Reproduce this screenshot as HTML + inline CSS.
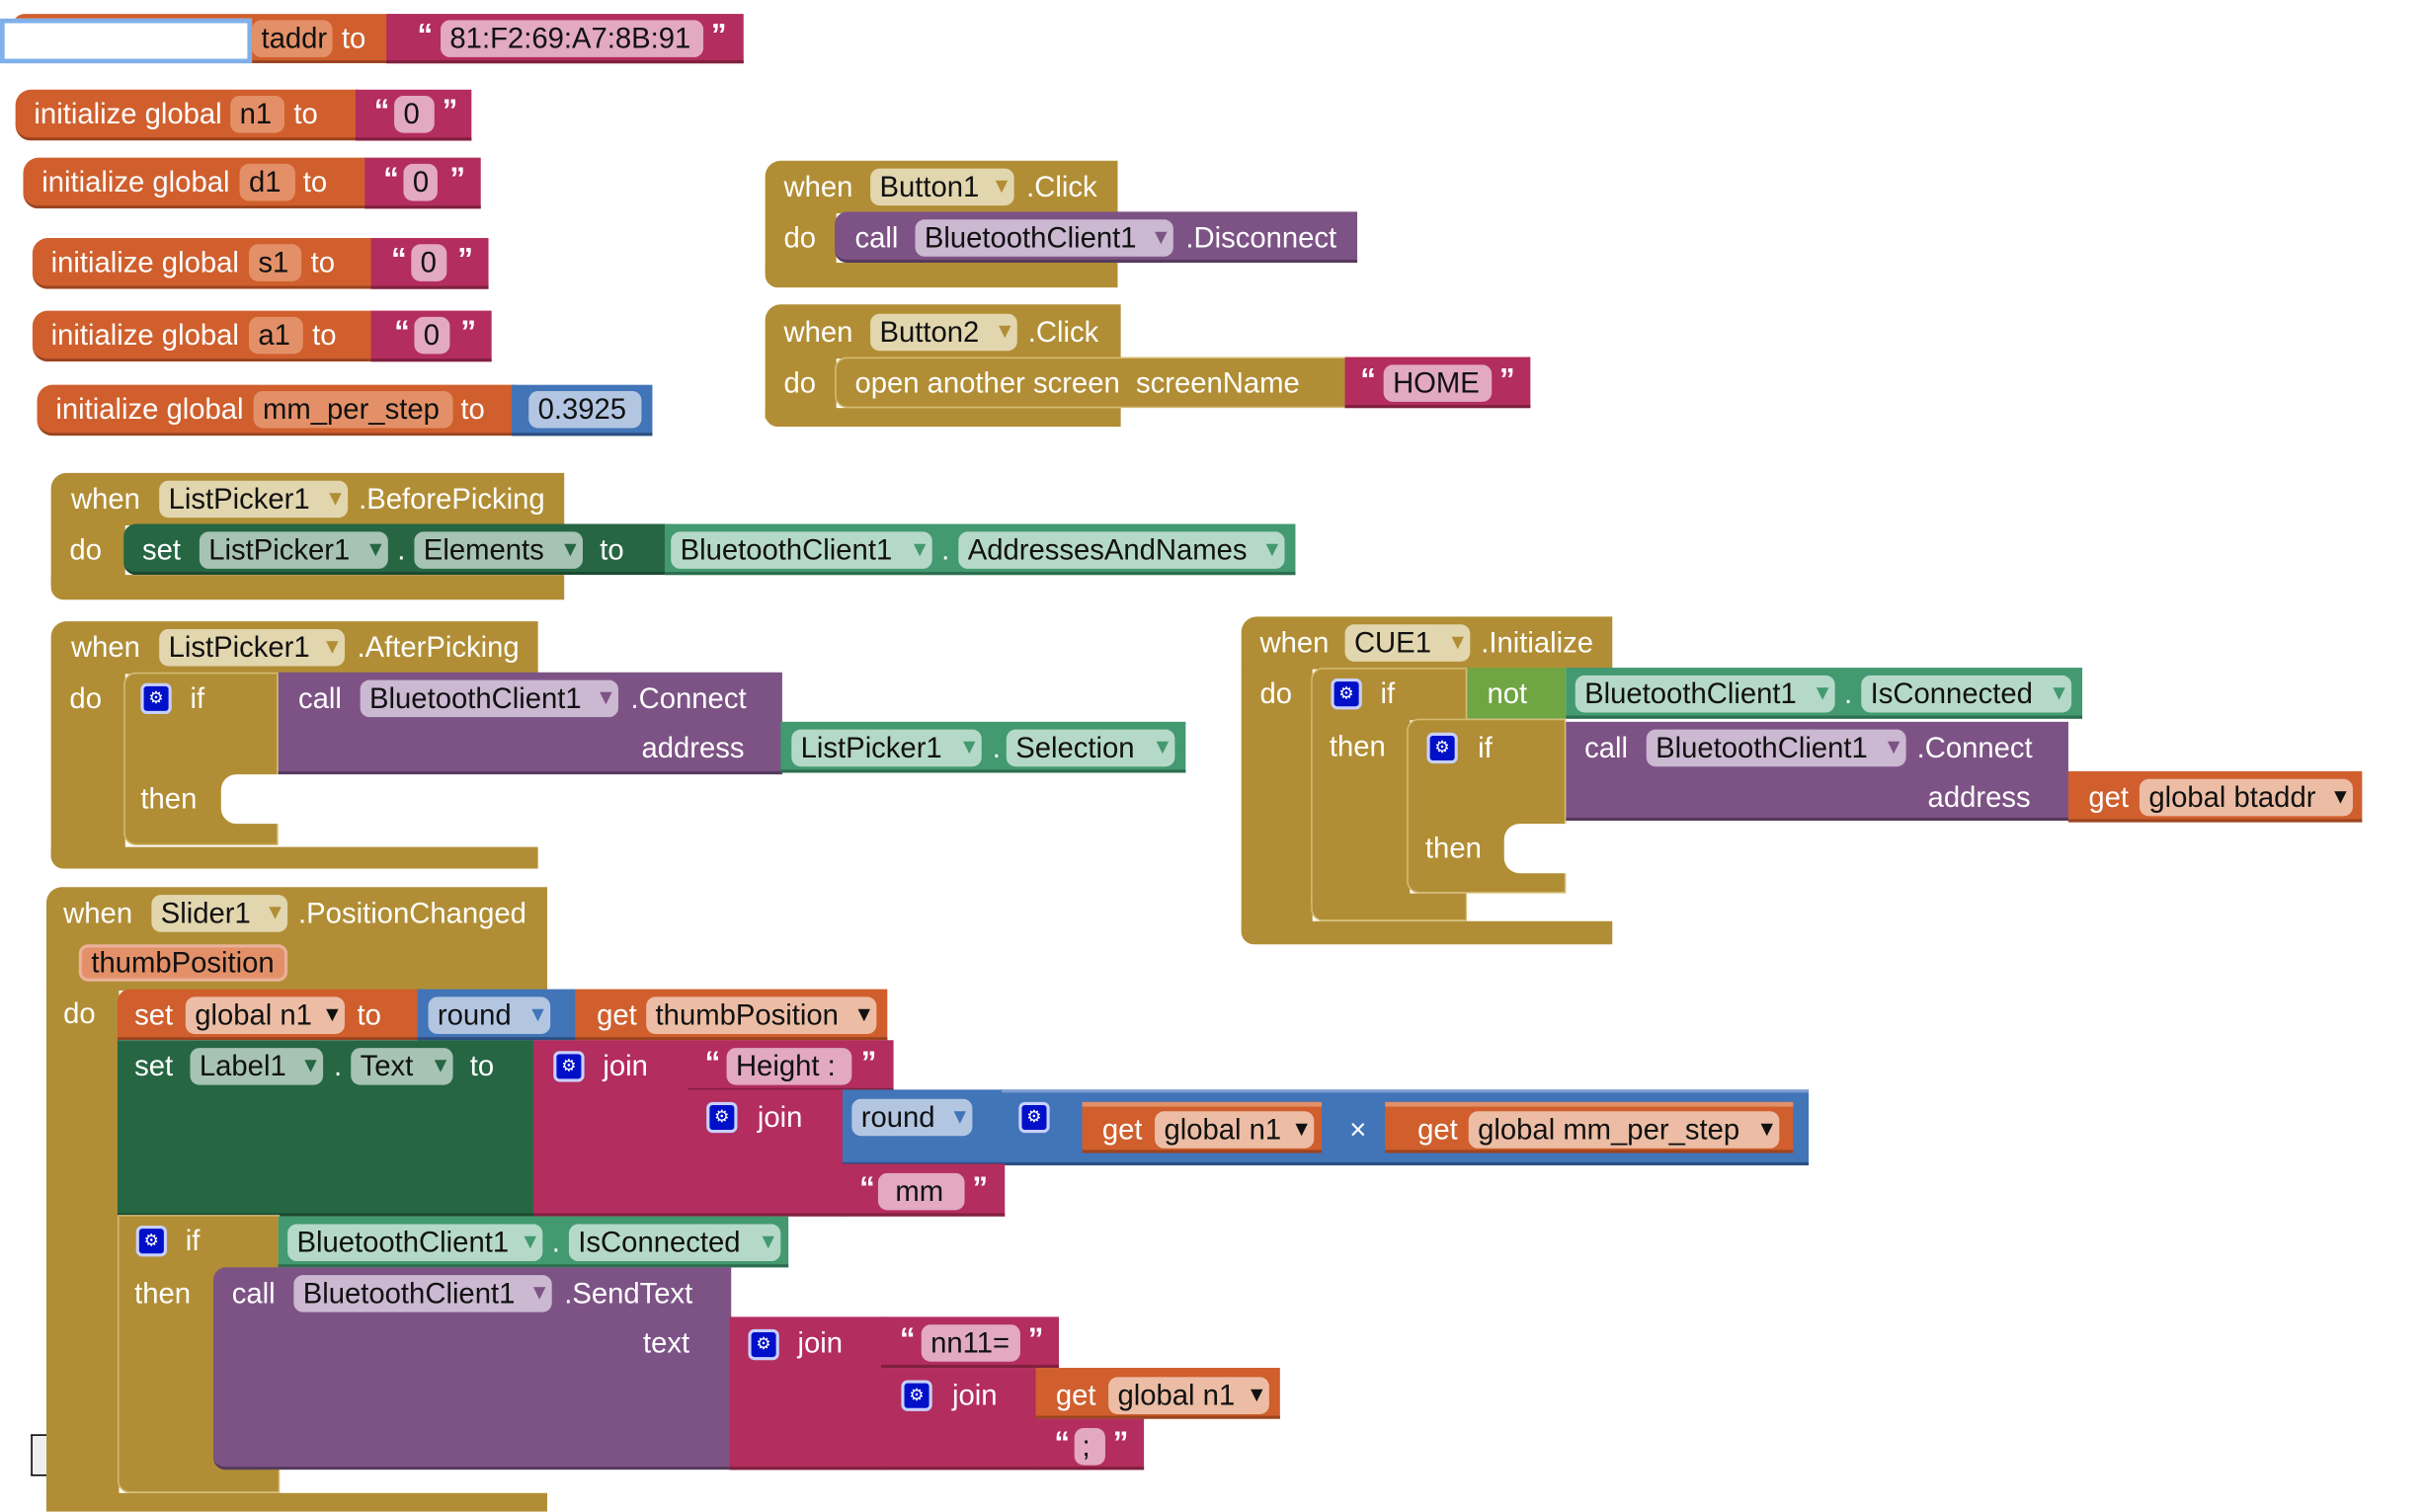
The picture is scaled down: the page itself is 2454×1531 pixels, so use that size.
<!DOCTYPE html>
<html><head><meta charset="utf-8"><style>
html,body{margin:0;padding:0;background:#fff;width:2454px;height:1526px;overflow:hidden}
.c{position:absolute;left:0;top:0;width:1568px;height:975px;transform:scale(1.565);transform-origin:0 0;font-family:"Liberation Sans",sans-serif}
.b{position:absolute;box-sizing:border-box}
.t{position:absolute;color:#fff;font-size:18.7px;line-height:24px;white-space:nowrap}
.f{position:absolute;height:24px;line-height:24px;border-radius:6px;color:#111;padding:0 6px;font-size:18.7px;white-space:nowrap;box-sizing:border-box}
.f i{font-style:normal;font-size:16px;position:absolute;right:4px;top:0}
.q{font-weight:bold;font-size:20px}
.g{position:absolute;width:20px;height:20px;border-radius:4px;background:#0010c8;border:2px solid #c8d0ff;box-sizing:border-box;color:#fff;font-size:11px;line-height:16px;text-align:center}
.O{background:#D05F2D;border-bottom:2px solid #9c4420}.Of{background:#ECBDA4}.Oi{background:#E39068}
.M{background:#B32D5E;border-bottom:2px solid #80203f}.Mf{background:#E2A9C1}
.B{background:#4274B8;border-bottom:2px solid #2c4f80}.Bf{background:#B2C6E2}
.G{background:#B18E35}.Gf{background:#E2D6AE}
.P{background:#7D5385;border-bottom:2px solid #563a5c}.Pf{background:#CBB8D1}
.D{background:#266643;border-bottom:2px solid #1a4a30}.Df{background:#A6C3B3}
.T{background:#439970;border-bottom:2px solid #2c6e4e}.Tf{background:#B5D9C8}
.L{background:#6FA543}
.O i{color:#D05F2D}
</style></head><body><div class="c">

<!-- btaddr -->
<div class="b O" style="left:8px;top:9px;width:250px;height:32px;border-radius:8px 0 0 8px"></div>
<div class="b M" style="left:250px;top:9px;width:231px;height:32px"></div>
<div class="b" style="left:0;top:12px;width:163px;height:29px;background:#fff;border:3px solid #7fb0ea"></div>
<div class="f Oi" style="left:163px;top:13px;width:52px">taddr</div>
<div class="t" style="left:221px;top:13px">to</div>
<div class="t q" style="left:270px;top:11px">“</div>
<div class="f Mf" style="left:285px;top:13px;width:170px">81:F2:69:A7:8B:91</div>
<div class="t q" style="left:460px;top:11px">”</div>

<!-- n1 -->
<div class="b O" style="left:10px;top:58px;width:222px;height:33px;border-radius:10px 0 0 10px"></div>
<div class="b M" style="left:230px;top:58px;width:75px;height:33px"></div>
<div class="t" style="left:22px;top:62px">initialize global</div>
<div class="f Oi" style="left:149px;top:62px;width:35px">n1</div>
<div class="t" style="left:190px;top:62px">to</div>
<div class="t q" style="left:242px;top:60px">“</div>
<div class="f Mf" style="left:255px;top:62px;width:26px">0</div>
<div class="t q" style="left:286px;top:60px">”</div>

<!-- d1 -->
<div class="b O" style="left:15px;top:102px;width:222px;height:33px;border-radius:10px 0 0 10px"></div>
<div class="b M" style="left:236px;top:102px;width:75px;height:33px"></div>
<div class="t" style="left:27px;top:106px">initialize global</div>
<div class="f Oi" style="left:155px;top:106px;width:36px">d1</div>
<div class="t" style="left:196px;top:106px">to</div>
<div class="t q" style="left:248px;top:104px">“</div>
<div class="f Mf" style="left:261px;top:106px;width:22px">0</div>
<div class="t q" style="left:291px;top:104px">”</div>

<!-- s1 -->
<div class="b O" style="left:21px;top:154px;width:221px;height:33px;border-radius:10px 0 0 10px"></div>
<div class="b M" style="left:240px;top:154px;width:76px;height:33px"></div>
<div class="t" style="left:33px;top:158px">initialize global</div>
<div class="f Oi" style="left:161px;top:158px;width:34px">s1</div>
<div class="t" style="left:201px;top:158px">to</div>
<div class="t q" style="left:253px;top:156px">“</div>
<div class="f Mf" style="left:266px;top:158px;width:23px">0</div>
<div class="t q" style="left:296px;top:156px">”</div>

<!-- a1 -->
<div class="b O" style="left:21px;top:201px;width:221px;height:33px;border-radius:10px 0 0 10px"></div>
<div class="b M" style="left:240px;top:201px;width:78px;height:33px"></div>
<div class="t" style="left:33px;top:205px">initialize global</div>
<div class="f Oi" style="left:161px;top:205px;width:35px">a1</div>
<div class="t" style="left:202px;top:205px">to</div>
<div class="t q" style="left:255px;top:203px">“</div>
<div class="f Mf" style="left:268px;top:205px;width:23px">0</div>
<div class="t q" style="left:298px;top:203px">”</div>

<!-- mm_per_step -->
<div class="b O" style="left:24px;top:249px;width:310px;height:33px;border-radius:10px 0 0 10px"></div>
<div class="b B" style="left:331px;top:249px;width:91px;height:33px"></div>
<div class="t" style="left:36px;top:253px">initialize global</div>
<div class="f Oi" style="left:164px;top:253px;width:129px">mm_per_step</div>
<div class="t" style="left:298px;top:253px">to</div>
<div class="f Bf" style="left:342px;top:253px;width:73px">0.3925</div>

<!-- Button1 -->
<div class="b G" style="left:495px;top:104px;width:228px;height:34px;border-radius:10px 0 0 0"></div>
<div class="b G" style="left:495px;top:137px;width:46px;height:40px"></div>
<div class="b G" style="left:495px;top:170px;width:228px;height:16px;border-radius:0 0 0 8px"></div>
<div class="b P" style="left:540px;top:137px;width:338px;height:33px;border-radius:8px 0 0 8px"></div>
<div class="t" style="left:507px;top:109px">when</div>
<div class="f Gf" style="left:563px;top:109px;width:93px">Button1<i style="color:#B18E35">▾</i></div>
<div class="t" style="left:664px;top:109px">.Click</div>
<div class="t" style="left:507px;top:142px">do</div>
<div class="t" style="left:553px;top:142px">call</div>
<div class="f Pf" style="left:592px;top:142px;width:167px">BluetoothClient1<i style="color:#7D5385">▾</i></div>
<div class="t" style="left:767px;top:142px">.Disconnect</div>

<!-- Button2 -->
<div class="b G" style="left:495px;top:197px;width:230px;height:35px;border-radius:10px 0 0 0"></div>
<div class="b G" style="left:495px;top:231px;width:46px;height:40px"></div>
<div class="b G" style="left:495px;top:264px;width:230px;height:12px;border-radius:0 0 0 8px"></div>
<div class="b G" style="left:540px;top:231px;width:332px;height:33px;border:1px solid #d4bb74;border-radius:8px 0 0 8px"></div>
<div class="b M" style="left:870px;top:231px;width:120px;height:33px"></div>
<div class="t" style="left:507px;top:203px">when</div>
<div class="f Gf" style="left:563px;top:203px;width:95px">Button2<i style="color:#B18E35">▾</i></div>
<div class="t" style="left:665px;top:203px">.Click</div>
<div class="t" style="left:507px;top:236px">do</div>
<div class="t" style="left:553px;top:236px">open another screen&nbsp; screenName</div>
<div class="t q" style="left:880px;top:234px">“</div>
<div class="f Mf" style="left:895px;top:236px;width:70px">HOME</div>
<div class="t q" style="left:970px;top:234px">”</div>

<!-- BeforePicking -->
<div class="b G" style="left:33px;top:306px;width:332px;height:34px;border-radius:10px 0 0 0"></div>
<div class="b G" style="left:33px;top:339px;width:48px;height:40px"></div>
<div class="b G" style="left:33px;top:372px;width:332px;height:16px;border-radius:0 0 0 8px"></div>
<div class="b D" style="left:80px;top:339px;width:352px;height:33px;border-radius:8px 0 0 8px"></div>
<div class="b T" style="left:430px;top:339px;width:408px;height:33px"></div>
<div class="t" style="left:46px;top:311px">when</div>
<div class="f Gf" style="left:103px;top:311px;width:122px">ListPicker1<i style="color:#B18E35">▾</i></div>
<div class="t" style="left:232px;top:311px">.BeforePicking</div>
<div class="t" style="left:45px;top:344px">do</div>
<div class="t" style="left:92px;top:344px">set</div>
<div class="f Df" style="left:129px;top:344px;width:122px">ListPicker1<i style="color:#266643">▾</i></div>
<div class="t" style="left:257px;top:344px">.</div>
<div class="f Df" style="left:268px;top:344px;width:109px">Elements<i style="color:#266643">▾</i></div>
<div class="t" style="left:388px;top:344px">to</div>
<div class="f Tf" style="left:434px;top:344px;width:169px">BluetoothClient1<i style="color:#439970">▾</i></div>
<div class="t" style="left:609px;top:344px;color:#fff">.</div>
<div class="f Tf" style="left:620px;top:344px;width:211px">AddressesAndNames<i style="color:#439970">▾</i></div>

<!-- AfterPicking -->
<div class="b G" style="left:33px;top:402px;width:315px;height:34px;border-radius:10px 0 0 0"></div>
<div class="b G" style="left:33px;top:435px;width:48px;height:120px"></div>
<div class="b G" style="left:33px;top:548px;width:315px;height:14px;border-radius:0 0 0 8px"></div>
<div class="b G" style="left:80px;top:435px;width:100px;height:112px;border:1px solid #d4bb74;border-radius:8px 0 0 8px"></div>
<div class="b" style="left:143px;top:501px;width:38px;height:32px;background:#fff;border-radius:10px 0 0 10px"></div>
<div class="b P" style="left:180px;top:435px;width:326px;height:66px"></div>
<div class="b T" style="left:505px;top:467px;width:262px;height:33px"></div>
<div class="t" style="left:46px;top:407px">when</div>
<div class="f Gf" style="left:103px;top:407px;width:120px">ListPicker1<i style="color:#B18E35">▾</i></div>
<div class="t" style="left:231px;top:407px">.AfterPicking</div>
<div class="t" style="left:45px;top:440px">do</div>
<div class="g" style="left:91px;top:442px">⚙</div>
<div class="t" style="left:123px;top:440px">if</div>
<div class="t" style="left:91px;top:505px">then</div>
<div class="t" style="left:193px;top:440px">call</div>
<div class="f Pf" style="left:233px;top:440px;width:167px">BluetoothClient1<i style="color:#7D5385">▾</i></div>
<div class="t" style="left:408px;top:440px">.Connect</div>
<div class="t" style="left:415px;top:472px">address</div>
<div class="f Tf" style="left:512px;top:472px;width:123px">ListPicker1<i style="color:#439970">▾</i></div>
<div class="t" style="left:642px;top:472px">.</div>
<div class="f Tf" style="left:651px;top:472px;width:109px">Selection<i style="color:#439970">▾</i></div>

<!-- CUE1 -->
<div class="b G" style="left:803px;top:399px;width:240px;height:34px;border-radius:10px 0 0 0"></div>
<div class="b G" style="left:803px;top:432px;width:46px;height:170px"></div>
<div class="b G" style="left:803px;top:596px;width:240px;height:15px;border-radius:0 0 0 8px"></div>
<div class="b G" style="left:848px;top:432px;width:101px;height:34px;border:1px solid #d4bb74;border-bottom:0;border-radius:8px 0 0 0"></div>
<div class="b G" style="left:848px;top:465px;width:64px;height:120px;border-left:1px solid #d4bb74"></div>
<div class="b G" style="left:848px;top:578px;width:101px;height:18px;border:1px solid #d4bb74;border-top:0;border-radius:0 0 0 8px"></div>
<div class="b G" style="left:910px;top:465px;width:103px;height:113px;border:1px solid #d4bb74;border-radius:8px 0 0 8px"></div>
<div class="b" style="left:973px;top:533px;width:41px;height:32px;background:#fff;border-radius:10px 0 0 10px"></div>
<div class="b L" style="left:949px;top:432px;width:64px;height:33px"></div>
<div class="b T" style="left:1013px;top:432px;width:334px;height:33px"></div>
<div class="b P" style="left:1013px;top:467px;width:325px;height:64px"></div>
<div class="b O" style="left:1338px;top:499px;width:190px;height:33px"></div>
<div class="t" style="left:815px;top:404px">when</div>
<div class="f Gf" style="left:870px;top:404px;width:81px">CUE1<i style="color:#B18E35">▾</i></div>
<div class="t" style="left:958px;top:404px">.Initialize</div>
<div class="t" style="left:815px;top:437px">do</div>
<div class="g" style="left:861px;top:439px">⚙</div>
<div class="t" style="left:893px;top:437px">if</div>
<div class="t" style="left:962px;top:437px">not</div>
<div class="f Tf" style="left:1019px;top:437px;width:168px">BluetoothClient1<i style="color:#439970">▾</i></div>
<div class="t" style="left:1193px;top:437px">.</div>
<div class="f Tf" style="left:1204px;top:437px;width:136px">IsConnected<i style="color:#439970">▾</i></div>
<div class="t" style="left:860px;top:471px">then</div>
<div class="g" style="left:923px;top:474px">⚙</div>
<div class="t" style="left:956px;top:472px">if</div>
<div class="t" style="left:922px;top:537px">then</div>
<div class="t" style="left:1025px;top:472px">call</div>
<div class="f Pf" style="left:1065px;top:472px;width:168px">BluetoothClient1<i style="color:#7D5385">▾</i></div>
<div class="t" style="left:1240px;top:472px">.Connect</div>
<div class="t" style="left:1247px;top:504px">address</div>
<div class="t" style="left:1351px;top:504px">get</div>
<div class="f Of" style="left:1384px;top:504px;width:138px">global btaddr<i>▾</i></div>

<!-- Slider -->
<div class="b G" style="left:30px;top:574px;width:324px;height:67px;border-radius:10px 0 0 0"></div>
<div class="b G" style="left:30px;top:640px;width:47px;height:335px"></div>
<div class="b G" style="left:30px;top:966px;width:324px;height:12px"></div>
<div class="t" style="left:41px;top:579px">when</div>
<div class="f Gf" style="left:98px;top:579px;width:88px">Slider1<i style="color:#B18E35">▾</i></div>
<div class="t" style="left:193px;top:579px">.PositionChanged</div>
<div class="f" style="left:51px;top:611px;width:135px;background:#E39068;border:2px solid #eab29a;padding:0 6px;line-height:20px">thumbPosition</div>
<div class="t" style="left:41px;top:644px">do</div>

<div class="b O" style="left:76px;top:640px;width:196px;height:33px;border-radius:8px 0 0 0"></div>
<div class="b B" style="left:270px;top:640px;width:103px;height:33px"></div>
<div class="b O" style="left:372px;top:640px;width:202px;height:33px"></div>
<div class="t" style="left:87px;top:645px">set</div>
<div class="f Of" style="left:120px;top:645px;width:103px">global n1<i>▾</i></div>
<div class="t" style="left:231px;top:645px">to</div>
<div class="f Bf" style="left:277px;top:645px;width:79px">round<i style="color:#4274B8">▾</i></div>
<div class="t" style="left:386px;top:645px">get</div>
<div class="f Of" style="left:418px;top:645px;width:149px">thumbPosition<i>▾</i></div>

<div class="b D" style="left:76px;top:673px;width:270px;height:114px"></div>
<div class="b M" style="left:345px;top:673px;width:101px;height:114px"></div>
<div class="b M" style="left:445px;top:673px;width:133px;height:33px"></div>
<div class="b M" style="left:445px;top:705px;width:101px;height:82px"></div>
<div class="b B" style="left:545px;top:705px;width:104px;height:49px"></div>
<div class="b B" style="left:648px;top:705px;width:522px;height:49px;border-top:2px solid #7a9dcf"></div>
<div class="b O" style="left:700px;top:713px;width:155px;height:33px;border-top:3px solid #e39068"></div>
<div class="b O" style="left:896px;top:713px;width:264px;height:33px;border-top:3px solid #e39068"></div>
<div class="b M" style="left:545px;top:753px;width:105px;height:34px"></div>
<div class="t" style="left:87px;top:678px">set</div>
<div class="f Df" style="left:123px;top:678px;width:86px">Label1<i style="color:#266643">▾</i></div>
<div class="t" style="left:216px;top:678px">.</div>
<div class="f Df" style="left:227px;top:678px;width:66px">Text<i style="color:#266643">▾</i></div>
<div class="t" style="left:304px;top:678px">to</div>
<div class="g" style="left:358px;top:680px">⚙</div>
<div class="t" style="left:390px;top:678px">join</div>
<div class="t q" style="left:456px;top:676px">“</div>
<div class="f Mf" style="left:470px;top:678px;width:81px">Height :</div>
<div class="t q" style="left:557px;top:676px">”</div>
<div class="g" style="left:457px;top:713px">⚙</div>
<div class="t" style="left:490px;top:711px">join</div>
<div class="f Bf" style="left:551px;top:711px;width:78px">round<i style="color:#4274B8">▾</i></div>
<div class="g" style="left:659px;top:713px">⚙</div>
<div class="t" style="left:713px;top:719px">get</div>
<div class="f Of" style="left:747px;top:719px;width:103px">global n1<i>▾</i></div>
<div class="t" style="left:873px;top:719px">×</div>
<div class="t" style="left:917px;top:719px">get</div>
<div class="f Of" style="left:950px;top:719px;width:201px">global mm_per_step<i>▾</i></div>
<div class="t q" style="left:556px;top:757px">“</div>
<div class="f Mf" style="left:568px;top:759px;width:56px">&nbsp;mm</div>
<div class="t q" style="left:629px;top:757px">”</div>

<div class="b G" style="left:76px;top:786px;width:105px;height:180px;border:1px solid #d4bb74;border-radius:0 0 0 8px"></div>
<div class="b T" style="left:180px;top:787px;width:330px;height:33px"></div>
<div class="b P" style="left:138px;top:820px;width:335px;height:131px;border-radius:8px 0 0 8px"></div>
<div class="b M" style="left:472px;top:852px;width:99px;height:99px"></div>
<div class="b M" style="left:570px;top:852px;width:115px;height:33px"></div>
<div class="b M" style="left:570px;top:885px;width:101px;height:66px"></div>
<div class="b O" style="left:670px;top:885px;width:158px;height:33px"></div>
<div class="b M" style="left:670px;top:918px;width:70px;height:33px"></div>
<div class="g" style="left:88px;top:793px">⚙</div>
<div class="t" style="left:120px;top:791px">if</div>
<div class="f Tf" style="left:186px;top:792px;width:165px">BluetoothClient1<i style="color:#439970">▾</i></div>
<div class="t" style="left:357px;top:792px">.</div>
<div class="f Tf" style="left:368px;top:792px;width:137px">IsConnected<i style="color:#439970">▾</i></div>
<div class="t" style="left:87px;top:825px">then</div>
<div class="t" style="left:150px;top:825px">call</div>
<div class="f Pf" style="left:190px;top:825px;width:167px">BluetoothClient1<i style="color:#7D5385">▾</i></div>
<div class="t" style="left:365px;top:825px">.SendText</div>
<div class="t" style="left:416px;top:857px">text</div>
<div class="g" style="left:484px;top:860px">⚙</div>
<div class="t" style="left:516px;top:857px">join</div>
<div class="t q" style="left:582px;top:855px">“</div>
<div class="f Mf" style="left:596px;top:857px;width:64px">nn11=</div>
<div class="t q" style="left:665px;top:855px">”</div>
<div class="g" style="left:583px;top:893px">⚙</div>
<div class="t" style="left:616px;top:891px">join</div>
<div class="t" style="left:683px;top:891px">get</div>
<div class="f Of" style="left:717px;top:891px;width:104px">global n1<i>▾</i></div>
<div class="t q" style="left:682px;top:922px">“</div>
<div class="f Mf" style="left:695px;top:924px;width:20px;padding:0 5px">;</div>
<div class="t q" style="left:720px;top:922px">”</div>

<div class="b" style="left:20px;top:928px;width:10px;height:27px;border:1px solid #000;border-right:0;background:#eee"></div>

</div></body></html>
